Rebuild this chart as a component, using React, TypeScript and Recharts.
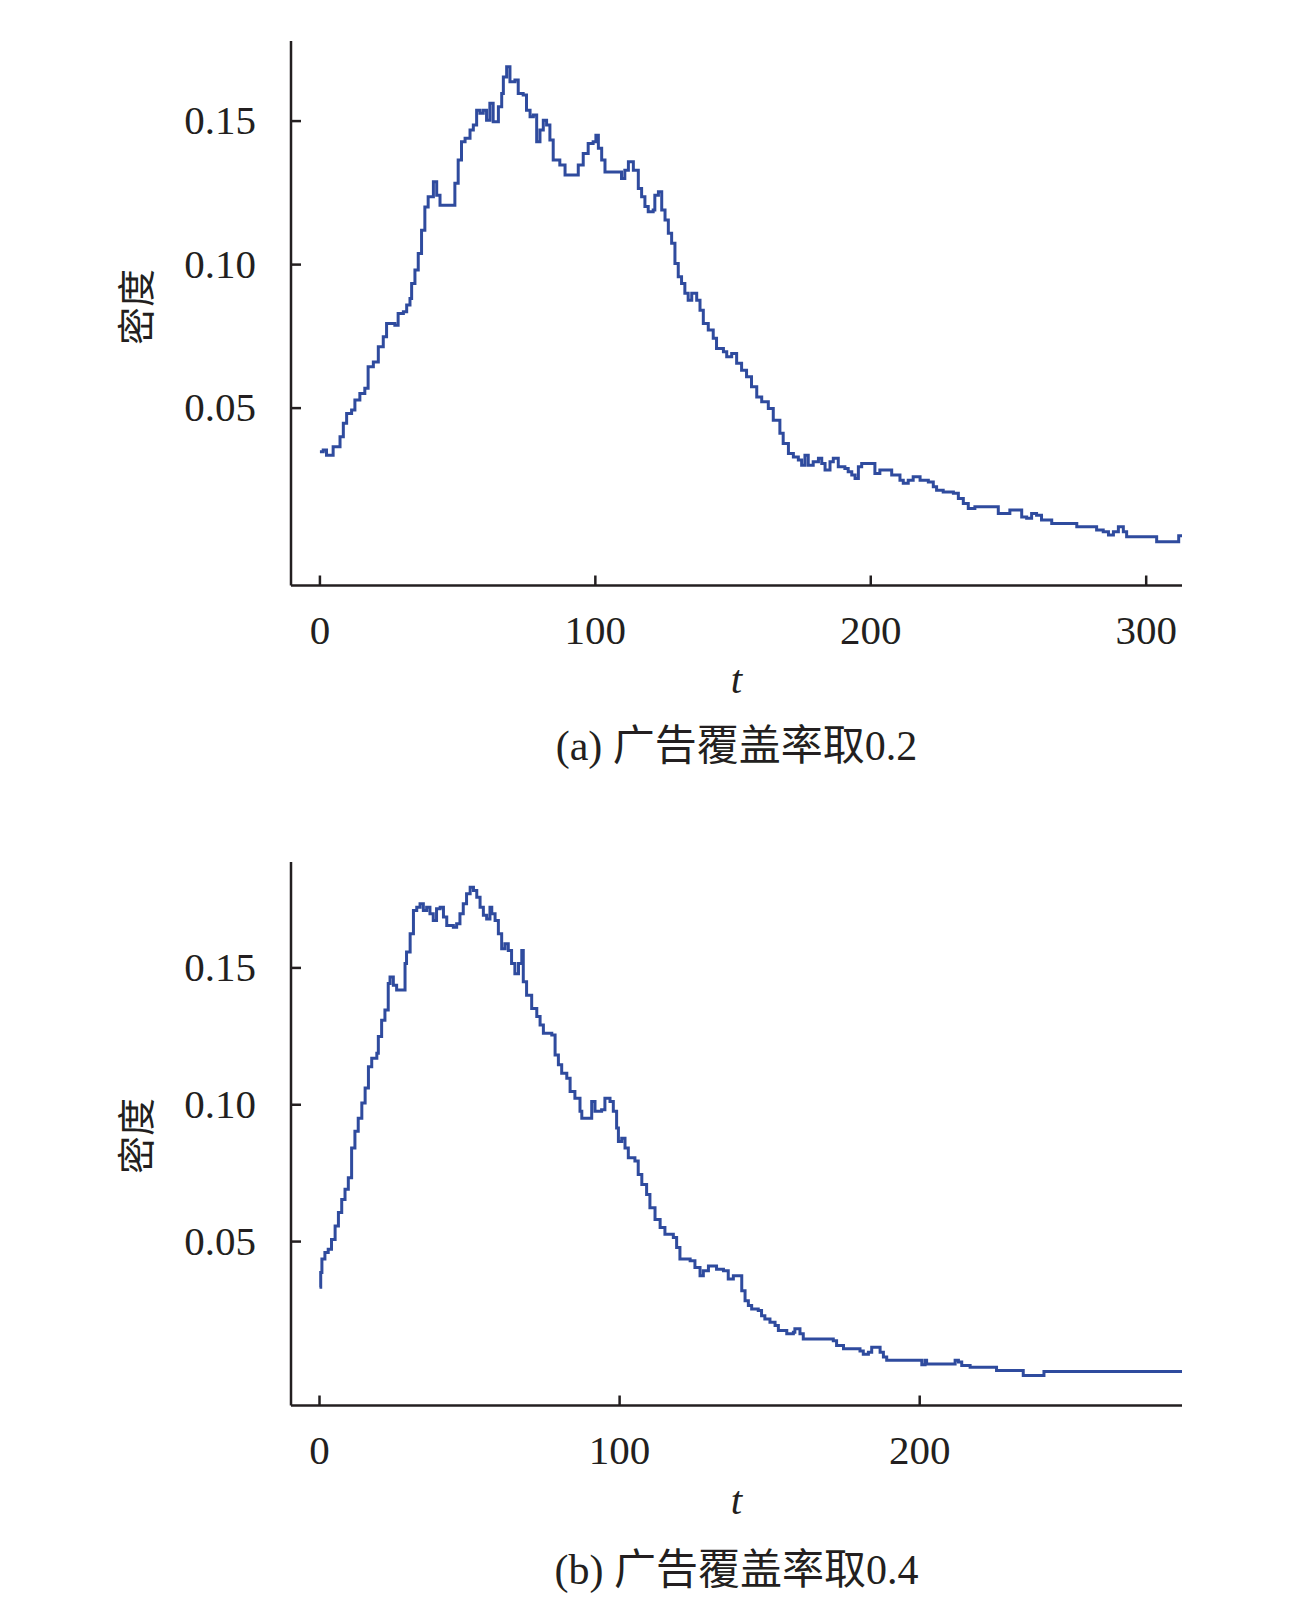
import React from "react";
import { LineChart, Line, XAxis, YAxis } from "recharts";

// ---- Data: panel (a), advertising coverage 0.2 ----
const tA = [
  0, 1.2, 2.4, 4.8, 7.3, 8.5, 9.7, 11.5, 12.7, 14.5, 16.3, 17.5, 19.4, 21.2, 23.0, 24.2, 27.2, 28.4, 30.3, 31.5,
  32.7, 33.3, 34.5, 35.7, 36.9, 38.1, 39.3, 41.2, 42.4, 43.6, 49.0, 50.2, 51.4, 52.7, 54.5, 55.7, 56.9, 58.1, 59.3, 60.5,
  61.7, 62.9, 64.8, 66.0, 66.6, 67.8, 69.0, 70.8, 72.0, 73.8, 75.0, 76.3, 77.5, 78.7, 79.9, 81.1, 82.3, 83.5, 84.7, 87.1,
  89.0, 93.8, 95.6, 97.4, 99.2, 100.2, 101.1, 102.3, 103.5, 109.5, 110.7, 112.0, 113.8, 115.6, 116.8, 118.0, 119.2, 121.0, 121.6, 122.9,
  124.1, 125.3, 126.5, 127.7, 128.9, 130.1, 131.3, 132.5, 133.7, 135.0, 136.8, 138.0, 139.2, 141.0, 142.8, 144.0, 146.5, 147.7, 149.5, 151.3,
  153.1, 154.9, 156.7, 158.6, 160.4, 162.8, 164.6, 167.0, 168.2, 170.1, 171.9, 173.7, 174.9, 176.1, 177.3, 179.1, 181.0, 182.2, 183.4, 185.2,
  186.4, 188.2, 190.6, 191.8, 193.1, 194.3, 195.5, 196.7, 201.5, 203.3, 207.6, 210.6, 211.8, 213.6, 215.4, 217.9, 220.9, 222.7, 223.9, 226.3,
  230.0, 231.8, 233.6, 235.4, 237.8, 246.3, 250.5, 254.8, 256.6, 258.4, 260.2, 262.0, 265.7, 274.8, 282.0, 284.4, 286.3, 288.1, 289.9, 291.7,
  292.9, 303.8, 311.8, 313,
];
const vA = [
  0.0348, 0.0354, 0.0336, 0.0365, 0.04, 0.0447, 0.0481, 0.0493, 0.0528, 0.0551, 0.0569, 0.0644, 0.0661, 0.0714, 0.0749, 0.0795, 0.0789, 0.083, 0.0836, 0.0859,
  0.0882, 0.0934, 0.0981, 0.1039, 0.112, 0.1201, 0.1236, 0.1289, 0.1242, 0.1207, 0.1283, 0.1364, 0.1428, 0.144, 0.1469, 0.1486, 0.1538, 0.1527, 0.1538, 0.1503,
  0.1562, 0.1498, 0.155, 0.1596, 0.1654, 0.1689, 0.1637, 0.1643, 0.1596, 0.1591, 0.1538, 0.1515, 0.1521, 0.1428, 0.1469, 0.1503, 0.1486, 0.1434, 0.1364, 0.1347,
  0.1312, 0.1347, 0.1387, 0.1422, 0.1428, 0.1451, 0.1405, 0.1364, 0.1323, 0.13, 0.1329, 0.1358, 0.1329, 0.1265, 0.1236, 0.1202, 0.1184, 0.119, 0.1242, 0.1254,
  0.119, 0.1155, 0.1109, 0.1074, 0.1004, 0.0958, 0.0934, 0.09, 0.0876, 0.09, 0.0876, 0.0841, 0.0795, 0.0772, 0.0743, 0.0708, 0.0696, 0.0679, 0.069, 0.0656,
  0.0632, 0.0609, 0.0574, 0.0539, 0.0522, 0.0499, 0.0458, 0.0412, 0.0377, 0.0342, 0.033, 0.0319, 0.0301, 0.0336, 0.0301, 0.0313, 0.0325, 0.0307, 0.0284, 0.0313,
  0.0325, 0.0296, 0.029, 0.0278, 0.0267, 0.0255, 0.0296, 0.0307, 0.0272, 0.0284, 0.0267, 0.0249, 0.0238, 0.0249, 0.0261, 0.0249, 0.0243, 0.0226, 0.0214, 0.0208,
  0.0203, 0.0185, 0.0168, 0.015, 0.0156, 0.0133, 0.0145, 0.0121, 0.0116, 0.0133, 0.0127, 0.011, 0.0098, 0.0087, 0.0075, 0.0069, 0.0058, 0.0069, 0.0087, 0.0069,
  0.0052, 0.0034, 0.0055, 0.0055,
];

// ---- Data: panel (b), advertising coverage 0.4 ----
const tB = [
  0, 0.4, 0.8, 1.8, 2.9, 4.0, 5.2, 6.3, 7.4, 8.5, 9.6, 10.7, 11.8, 12.9, 14.1, 15.2, 16.3, 17.4, 19.1, 19.6,
  20.7, 21.8, 22.9, 23.5, 24.6, 25.7, 28.5, 29.0, 30.2, 31.3, 32.4, 33.5, 34.6, 35.7, 36.8, 37.9, 39.0, 40.2, 41.3, 42.4,
  44.6, 45.7, 46.8, 47.9, 49.0, 50.2, 51.3, 52.4, 53.5, 54.6, 55.7, 56.8, 57.4, 58.5, 59.6, 60.7, 61.8, 62.9, 64.0, 65.1,
  66.3, 67.4, 67.9, 69.0, 70.7, 72.4, 73.5, 74.6, 77.4, 78.5, 79.6, 80.7, 82.4, 83.5, 85.1, 86.8, 87.4, 90.7, 91.8, 94.0,
  95.1, 96.8, 97.9, 99.0, 99.6, 100.7, 101.8, 102.9, 105.1, 106.2, 107.4, 109.0, 110.1, 111.8, 113.5, 115.1, 117.9, 119.0, 120.1, 123.5,
  125.1, 126.8, 127.9, 129.6, 132.3, 134.6, 136.2, 137.9, 140.7, 141.8, 142.9, 144.0, 146.2, 147.3, 148.4, 150.1, 151.8, 152.9, 155.7, 157.9,
  158.4, 160.1, 161.2, 171.2, 172.3, 174.6, 180.1, 181.2, 182.9, 184.0, 186.8, 187.9, 189.0, 200.7, 201.8, 202.3, 211.8, 212.9, 214.0, 216.8,
  225.6, 234.5, 241.4, 287.4,
];
const vB = [
  0.0333, 0.0387, 0.0436, 0.046, 0.0472, 0.0508, 0.0557, 0.0606, 0.0654, 0.0691, 0.0733, 0.0842, 0.0903, 0.0951, 0.1006, 0.1061, 0.1139, 0.117, 0.1188, 0.1249,
  0.1309, 0.1346, 0.1443, 0.1467, 0.1437, 0.1419, 0.1516, 0.1558, 0.1625, 0.171, 0.1722, 0.1734, 0.171, 0.1722, 0.1698, 0.1673, 0.1716, 0.1722, 0.1686, 0.1655,
  0.1649, 0.1661, 0.1698, 0.1734, 0.1771, 0.1795, 0.1783, 0.1758, 0.1722, 0.1692, 0.1679, 0.1722, 0.1698, 0.1673, 0.1625, 0.157, 0.1588, 0.1564, 0.1516, 0.1479,
  0.1516, 0.1564, 0.1449, 0.14, 0.1352, 0.1322, 0.1291, 0.1261, 0.1255, 0.1182, 0.1146, 0.1115, 0.1097, 0.1048, 0.1024, 0.0976, 0.0951, 0.1012, 0.0976, 0.0982,
  0.1024, 0.1012, 0.0976, 0.0915, 0.0866, 0.0878, 0.0842, 0.0806, 0.0794, 0.0745, 0.0709, 0.0672, 0.0624, 0.0581, 0.0551, 0.0527, 0.0515, 0.0478, 0.0436, 0.043,
  0.0405, 0.0375, 0.0393, 0.0411, 0.0399, 0.0393, 0.0363, 0.0375, 0.032, 0.0284, 0.0266, 0.0254, 0.0248, 0.0229, 0.0217, 0.0205, 0.0193, 0.0175, 0.0163, 0.0169,
  0.0181, 0.0163, 0.0144, 0.0138, 0.012, 0.0108, 0.01, 0.0088, 0.0096, 0.0114, 0.0096, 0.0078, 0.0066, 0.005, 0.0066, 0.0053, 0.0066, 0.006, 0.0047, 0.0041,
  0.0029, 0.0011, 0.0025, 0.0025,
];

const yTicks = [0.05, 0.1, 0.15];
const xTicksA = [0, 100, 200, 300];
const xTicksB = [0, 100, 200];
const xDomainA = [-10.5, 313];
const xDomainB = [-9.5, 287.4];
const yDomainA = [-0.0118, 0.1779];
const yDomainB = [-0.0099, 0.1887];

const yLabel = "密度";
const xLabel = "t";
const captionA = "(a) 广告覆盖率取0.2";
const captionB = "(b) 广告覆盖率取0.4";

const dataA = tA.map((t, i) => ({ t, v: vA[i] }));
const dataB = tB.map((t, i) => ({ t, v: vB[i] }));

const AXIS = "#231f20";
const LINE = "#2f4b9e";
const SERIF = "'Liberation Serif', 'Times New Roman', serif";
const MIXED = "'Liberation Serif', 'Noto Sans CJK SC', serif";
const CJK = "'Noto Sans CJK SC', sans-serif";

const XTick = (props: any) => {
  const { x, y, payload } = props;
  return (
    <g>
      <line x1={x} y1={y} x2={x} y2={y - 10} stroke={AXIS} strokeWidth={2.5} />
      <text x={x} y={y + 58.5} textAnchor="middle" fontFamily={SERIF} fontSize={41} fill={AXIS}>
        {payload.value}
      </text>
    </g>
  );
};

const YTick = (props: any) => {
  const { x, y, payload } = props;
  return (
    <g>
      <line x1={x} y1={y} x2={x + 10} y2={y} stroke={AXIS} strokeWidth={2.5} />
      <text x={x - 35} y={y + 13} textAnchor="end" fontFamily={SERIF} fontSize={41} fill={AXIS}>
        {Number(payload.value).toFixed(2)}
      </text>
    </g>
  );
};

function Panel(props: {
  data: { t: number; v: number }[];
  xTicks: number[];
  xDomain: number[];
  yDomain: number[];
  top: number;
  marginTop: number;
  marginBottom: number;
}) {
  const { data, xTicks, xDomain, yDomain, top, marginTop, marginBottom } = props;
  return (
    <div style={{ position: "absolute", left: 0, top }}>
      <LineChart
        width={1291}
        height={700}
        data={data}
        margin={{ top: marginTop, right: 109, bottom: marginBottom, left: 231 }}
      >
        <XAxis
          dataKey="t"
          type="number"
          domain={xDomain}
          ticks={xTicks}
          allowDataOverflow
          interval={0}
          height={30}
          tickSize={0}
          tickMargin={0}
          tickLine={false}
          axisLine={{ stroke: AXIS, strokeWidth: 2.5 }}
          tick={<XTick />}
        />
        <YAxis
          type="number"
          domain={yDomain}
          ticks={yTicks}
          allowDataOverflow
          interval={0}
          width={60}
          tickSize={0}
          tickMargin={0}
          tickLine={false}
          axisLine={{ stroke: AXIS, strokeWidth: 2.5 }}
          tick={<YTick />}
        />
        <Line
          type="stepAfter"
          dataKey="v"
          stroke={LINE}
          strokeWidth={3}
          dot={false}
          activeDot={false}
          isAnimationActive={false}
        />
      </LineChart>
    </div>
  );
}

export default function App() {
  return (
    <div style={{ position: "absolute", left: 0, top: 0, width: 1291, height: 1600, background: "#fff" }}>
      <Panel data={dataA} xTicks={xTicksA} xDomain={xDomainA} yDomain={yDomainA} top={0} marginTop={41} marginBottom={84.5} />
      <Panel data={dataB} xTicks={xTicksB} xDomain={xDomainB} yDomain={yDomainB} top={800} marginTop={62} marginBottom={64.5} />
      <svg
        width={1291}
        height={1600}
        style={{ position: "absolute", left: 0, top: 0, pointerEvents: "none" }}
      >
        <text x={133} y={307} textAnchor="middle" dominantBaseline="central" fontFamily={CJK} fontSize={38} fill={AXIS} transform="rotate(-90 133 307)">
          {yLabel}
        </text>
        <text x={736.5} y={693} textAnchor="middle" fontFamily={SERIF} fontStyle="italic" fontSize={41} fill={AXIS}>
          {xLabel}
        </text>
        <text x={736.5} y={760} textAnchor="middle" fontFamily={MIXED} fontSize={42} fill={AXIS}>
          {captionA}
        </text>
        <text x={133} y={1136} textAnchor="middle" dominantBaseline="central" fontFamily={CJK} fontSize={38} fill={AXIS} transform="rotate(-90 133 1136)">
          {yLabel}
        </text>
        <text x={736.5} y={1514} textAnchor="middle" fontFamily={SERIF} fontStyle="italic" fontSize={41} fill={AXIS}>
          {xLabel}
        </text>
        <text x={736.5} y={1584} textAnchor="middle" fontFamily={MIXED} fontSize={42} fill={AXIS}>
          {captionB}
        </text>
      </svg>
    </div>
  );
}
